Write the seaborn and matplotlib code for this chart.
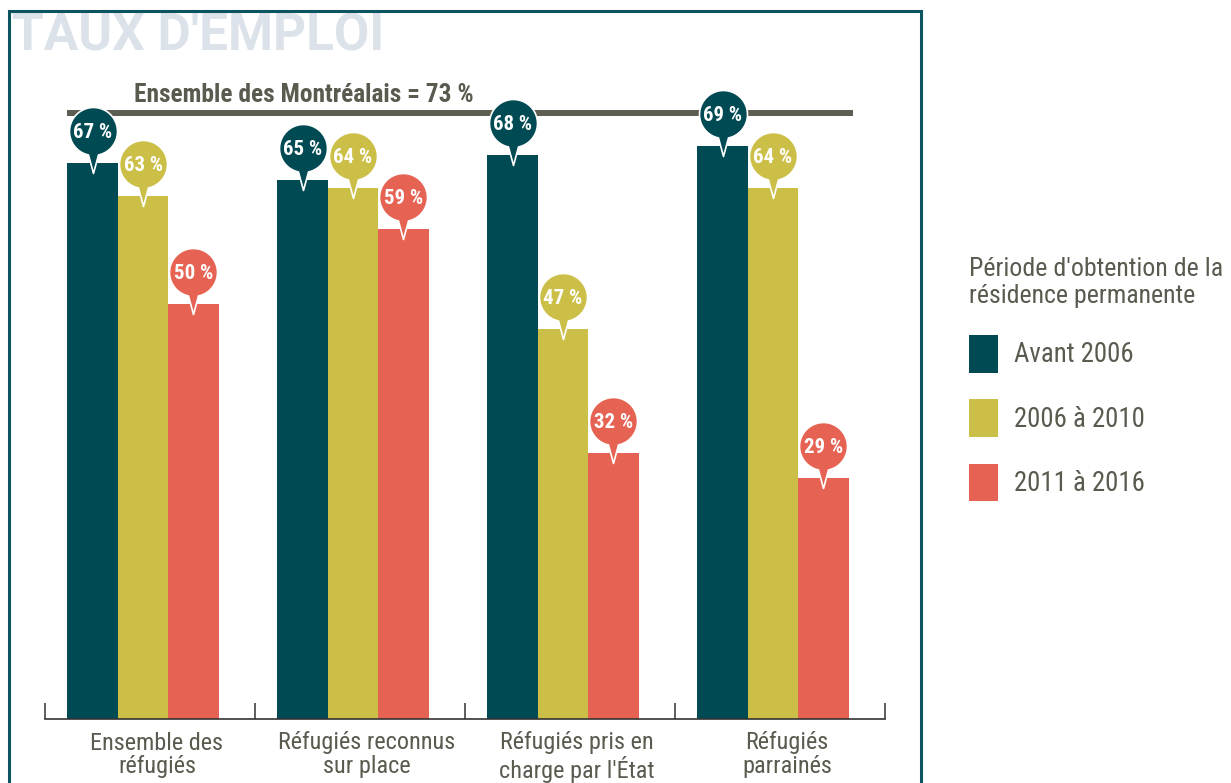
import numpy as np
import pandas as pd
import matplotlib
matplotlib.use("Agg")
import matplotlib.pyplot as plt
from matplotlib import font_manager
from matplotlib.path import Path
from matplotlib.patches import Rectangle
import seaborn as sns

# ---- data -------------------------------------------------------------
categories = [
    "Ensemble des\nréfugiés",
    "Réfugiés reconnus\nsur place",
    "Réfugiés pris en\ncharge par l'État",
    "Réfugiés\nparrainés",
]
periods = ["Avant 2006", "2006 à 2010", "2011 à 2016"]
avant_2006 = [67, 65, 68, 69]
de_2006_a_2010 = [63, 64, 47, 64]
de_2011_a_2016 = [50, 59, 32, 29]
ensemble_montrealais = 73

title = "TAUX D'EMPLOI"
legend_title = "Période d'obtention de la\nrésidence permanente"
reference_label = f"Ensemble des Montréalais = {ensemble_montrealais} %"

df = pd.DataFrame({
    "categorie": categories * 3,
    "periode": np.repeat(periods, len(categories)),
    "taux": avant_2006 + de_2006_a_2010 + de_2011_a_2016,
})

# ---- style ------------------------------------------------------------
palette = {"Avant 2006": "#004a54", "2006 à 2010": "#ccbf47", "2011 à 2016": "#e66354"}
TEXT = "#5b5a4f"
W, H, DPI = 1231, 783, 100

available = {f.name for f in font_manager.fontManager.ttflist}
FONT = next((f for f in ["Roboto Condensed", "Roboto"] if f in available), "DejaVu Sans")
TITLE_FONT = "Roboto" if "Roboto" in available else FONT
sns.set_style("white")
plt.rcParams["font.family"] = [FONT, "DejaVu Sans"]

# speech-bubble marker: circle above the anchor, pointer tip just below it
R, CY, TIP = 24, 32, -10
a = np.deg2rad(12)
th = np.linspace(-np.pi / 2 + a, 3 * np.pi / 2 - a, 90)
verts = np.column_stack([R * np.cos(th), CY + R * np.sin(th)])
verts = np.vstack([verts, [0, TIP], verts[0]])
codes = [Path.MOVETO] + [Path.LINETO] * (len(verts) - 2) + [Path.CLOSEPOLY]
pin = Path(verts, codes)
pin_ms = 2 * (CY + R) * 72 / DPI

# ---- figure -----------------------------------------------------------
fig = plt.figure(figsize=(W / DPI, H / DPI), dpi=DPI)
ax = fig.add_axes([45 / W, 64 / H, 840 / W, 664 / H])

sns.barplot(data=df, x="categorie", y="taux", hue="periode", palette=palette,
            width=0.72, saturation=1, linewidth=0, errorbar=None, ax=ax, zorder=2)

shift = 7 / 210
ax.set_xlim(-0.5 + shift, 3.5 + shift)
ax.set_ylim(0, 80)
ax.set(xlabel="", ylabel="")
ax.set_yticks([])
for s in ["left", "top", "right"]:
    ax.spines[s].set_visible(False)
ax.spines["bottom"].set_color("#333333")
ax.spines["bottom"].set_linewidth(1.2)

bounds = np.arange(len(categories) + 1) - 0.5 + shift
ax.set_xticks(bounds, labels=[""] * len(bounds))
ax.set_xticks(np.arange(len(categories)) + 2 * shift, labels=categories, minor=True)
ax.tick_params(axis="x", which="major", bottom=True, direction="in", length=11.5,
               width=1.1, color="#333333")
ax.tick_params(axis="x", which="minor", bottom=True, length=0, pad=9,
               labelsize=17.5, labelcolor=TEXT)
for lab in ax.get_xticklabels(minor=True):
    lab.set_linespacing(1.05)

# reference line for all Montrealers
bars = [b for c in ax.containers for b in c]
left = min(b.get_x() for b in bars)
right = max(b.get_x() + b.get_width() for b in bars)
ax.hlines(ensemble_montrealais, left, right + 0.02, color="#5e5d52", lw=4.3, zorder=3)
ax.annotate(reference_label, (left, ensemble_montrealais), xytext=(48, 8),
            textcoords="offset points", ha="left", va="baseline",
            fontsize=18.3, fontweight="bold", color=TEXT)

# value bubbles
for container, period in zip(ax.containers, periods):
    color = palette[period]
    for bar in container:
        x = bar.get_x() + bar.get_width() / 2
        h = bar.get_height()
        ax.plot([x], [h], marker=pin, ms=pin_ms, mfc=color, mec="white", mew=1.2,
                ls="none", zorder=5, clip_on=False)
        ax.annotate(f"{h:.0f} %", (x, h), xytext=(0, 25 * 72 / DPI),
                    textcoords="offset points", ha="center", va="baseline",
                    color="white", fontsize=15, fontweight="bold", zorder=6)

# legend
sns.move_legend(ax, "upper left", bbox_to_anchor=(969 / W, 1 - 257 / H),
                bbox_transform=fig.transFigure, title=legend_title, frameon=False,
                fontsize=19.3, title_fontsize=18.6, handlelength=29 / 26.8,
                handleheight=1.78, labelspacing=1.0, handletextpad=16 / 26.8,
                borderpad=0, borderaxespad=0, alignment="left", labelcolor=TEXT)
leg = ax.get_legend()
leg.get_title().set_color(TEXT)
leg.get_title().set_linespacing(1.17)

# title and frame
fig.text(12 / W, 1 - 50 / H, title, ha="left", va="baseline", fontsize=37,
         fontweight="bold", color="#dce2e9", family=[TITLE_FONT, "DejaVu Sans"])
fig.add_artist(Rectangle((9 / W, -0.05), 912 / W, 1 - 11 / H + 0.05,
                         transform=fig.transFigure, fill=False, ec="#0c5560",
                         lw=2.2, zorder=10))

fig.savefig("out.png", dpi=DPI)
